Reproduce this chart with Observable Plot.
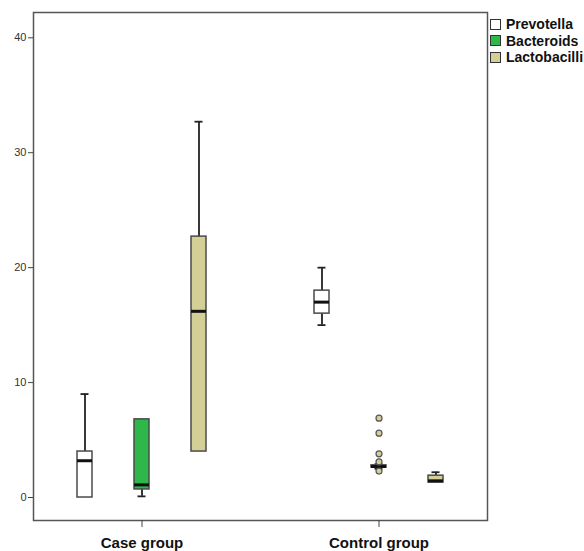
<!DOCTYPE html>
<html>
<head>
<meta charset="utf-8">
<script src="https://cdn.jsdelivr.net/npm/d3@7"></script>
<script src="https://cdn.jsdelivr.net/npm/@observablehq/plot@0.6"></script>
<style>
  body { margin: 0; background: #fff; }
  #wrap { position: relative; width: 584px; height: 551px; font-family: "Liberation Sans", Arial, sans-serif; }
  #legend { position: absolute; left: 490px; top: 16px; font-family: "Liberation Sans Narrow", "Liberation Sans", Arial, sans-serif; font-weight: bold; font-size: 14px; color: #111; }
  .item { display: flex; align-items: center; height: 16.5px; }
  .sw { width: 9px; height: 9px; border: 1px solid #333; margin-right: 5px; }
</style>
</head>
<body>
<div id="wrap"><div id="legend"></div></div>
<script>
const groups = ["Case group", "Control group"];
const series = ["Prevotella", "Bacteroids", "Lactobacilli"];
const colors = ["#ffffff", "#2fb84a", "#d4cf96"];
const yTicks = [0, 10, 20, 30, 40];

// per-series stats, Case group
const caseMin    = [0.0, 0.1, 4.0];
const caseQ1     = [0.0, 0.7, 4.0];
const caseMedian = [3.2, 1.1, 16.2];
const caseQ3     = [4.0, 6.8, 22.7];
const caseMax    = [9.0, 6.8, 32.7];
// per-series stats, Control group
const controlMin    = [15.0, 2.5, 1.3];
const controlQ1     = [16.0, 2.6, 1.3];
const controlMedian = [17.0, 2.7, 1.45];
const controlQ3     = [18.0, 2.8, 1.9];
const controlMax    = [20.0, 2.9, 2.2];
// outliers (Control group, Bacteroids)
const outlierSeries = "Bacteroids";
const outlierGroup = "Control group";
const outlierValues = [6.9, 5.6, 3.8, 3.1, 2.3];

const stats = {
  "Case group": [caseMin, caseQ1, caseMedian, caseQ3, caseMax],
  "Control group": [controlMin, controlQ1, controlMedian, controlQ3, controlMax]
};
const rows = groups.flatMap(g => series.map((s, i) => {
  const [mn, q1, md, q3, mx] = stats[g];
  return {group: g, series: s, min: mn[i], q1: q1[i], median: md[i], q3: q3[i], max: mx[i]};
}));
const outliers = outlierValues.map(v => ({group: outlierGroup, series: outlierSeries, value: v}));

const chart = Plot.plot({
  width: 584,
  height: 551,
  marginLeft: 32,
  marginRight: 96,
  marginTop: 12,
  marginBottom: 31,
  style: {fontFamily: "'Liberation Sans', Arial, sans-serif", background: "#fff"},
  y: {domain: [-2, 42.2]},
  fx: {domain: groups, paddingInner: 0.084, paddingOuter: 0},
  x: {domain: series, paddingInner: 0.74, paddingOuter: 0.75, axis: null},
  color: {domain: series, range: colors},
  marks: [
    Plot.frame({facet: "super", stroke: "#555", strokeWidth: 1.5}),
    Plot.axisY({ticks: yTicks, tickSize: 5, tickPadding: 2, fontSize: 11, color: "#333", stroke: "#444", label: null}),
    Plot.axisFx({anchor: "bottom", tickSize: 7, tickPadding: 10, fontSize: 15, fontWeight: "bold", label: null, stroke: "#444", fill: "#111",
      fontFamily: "'Liberation Sans Narrow', 'Liberation Sans', Arial, sans-serif"}),
    Plot.ruleX(rows, {fx: "group", x: "series", y1: "min", y2: "max", stroke: "#222", strokeWidth: 1.8}),
    Plot.tickY(rows.filter(d => d.max > d.q3), {fx: "group", x: "series", y: "max", stroke: "#222", strokeWidth: 1.8, insetLeft: 3.5, insetRight: 3.5}),
    Plot.tickY(rows.filter(d => d.min < d.q1), {fx: "group", x: "series", y: "min", stroke: "#222", strokeWidth: 1.8, insetLeft: 3.5, insetRight: 3.5}),
    Plot.barY(rows, {fx: "group", x: "series", y1: "q1", y2: "q3", fill: "series", stroke: "#4a4a4a", strokeWidth: 1.5}),
    Plot.tickY(rows, {fx: "group", x: "series", y: "median", stroke: "#111", strokeWidth: 3}),
    Plot.dot(outliers, {fx: "group", x: "series", y: "value", r: 3, fill: "#d4cf96", stroke: "#555", strokeWidth: 1.2})
  ]
});
document.getElementById("wrap").prepend(chart);

const legend = document.getElementById("legend");
series.forEach((s, i) => {
  const it = document.createElement("div");
  it.className = "item";
  const sw = document.createElement("div");
  sw.className = "sw";
  sw.style.background = colors[i];
  const t = document.createElement("span");
  t.textContent = s;
  it.append(sw, t);
  legend.append(it);
});
</script>
</body>
</html>
